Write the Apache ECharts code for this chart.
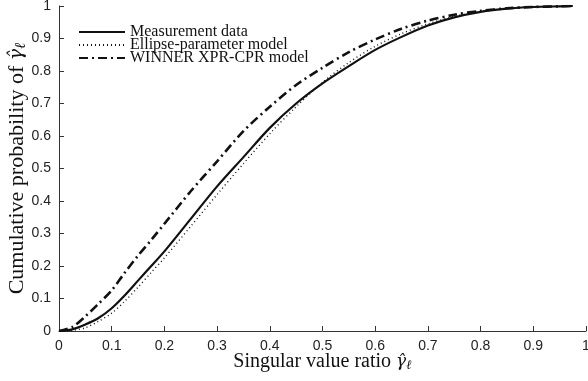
<!DOCTYPE html>
<html>
<head>
<meta charset="utf-8">
<script src="https://cdn.jsdelivr.net/npm/echarts@6/dist/echarts.min.js"></script>
<style>
  html, body { margin: 0; padding: 0; background: #fff; }
  #chart { width: 588px; height: 381px; }
</style>
</head>
<body>
<div id="chart"></div>
<script>
// values
const ratio = [0, 0.025, 0.05, 0.075, 0.1, 0.125, 0.15, 0.175, 0.2, 0.25, 0.3, 0.35, 0.4,
  0.45, 0.5, 0.55, 0.6, 0.65, 0.7, 0.75, 0.8, 0.85, 0.9, 0.95, 0.975];
const measurement = [0, 0.005, 0.02, 0.04, 0.07, 0.11, 0.155, 0.2, 0.245, 0.345, 0.445, 0.535, 0.625,
  0.7, 0.762, 0.815, 0.865, 0.905, 0.94, 0.965, 0.982, 0.992, 0.997, 0.999, 1.0];
const ellipseModel = [0, 0.002, 0.01, 0.03, 0.055, 0.092, 0.135, 0.18, 0.225, 0.322, 0.42, 0.515, 0.607,
  0.69, 0.765, 0.826, 0.876, 0.915, 0.945, 0.968, 0.983, 0.992, 0.997, 0.999, 1.0];
const winnerModel = [0, 0.012, 0.045, 0.084, 0.125, 0.18, 0.232, 0.28, 0.33, 0.43, 0.522, 0.615, 0.69,
  0.757, 0.81, 0.858, 0.897, 0.93, 0.955, 0.973, 0.985, 0.993, 0.997, 0.999, 1.0];
const ticks = [0, 0.1, 0.2, 0.3, 0.4, 0.5, 0.6, 0.7, 0.8, 0.9, 1];

const pairs = (ys) => ratio.map((x, i) => [x, ys[i]]);

const serif = 'Liberation Serif';
const sans = 'Liberation Sans';

const chart = echarts.init(document.getElementById('chart'), null, { renderer: 'canvas' });

const nameRich = (size) => ({
  g: { fontFamily: 'DejaVu Serif', fontStyle: 'italic', fontSize: size - 3, color: '#111' },
  s: { fontFamily: serif, fontStyle: 'italic', fontSize: size - 7, color: '#111', padding: [8, 0, 0, 0] }
});

const axisCommon = {
  type: 'value',
  min: ticks[0],
  max: ticks[ticks.length - 1],
  interval: 0.1,
  splitLine: { show: false },
  axisLine: { show: true, lineStyle: { color: '#333', width: 1 } },
  axisTick: { show: true, inside: true, length: 5, lineStyle: { color: '#333' } },
  axisLabel: { color: '#222', fontFamily: sans, fontSize: 14, margin: 8 },
  nameLocation: 'middle',
  nameMoveOverlap: false
};

chart.setOption({
  animation: false,
  grid: { left: 59, right: 2, top: 6, bottom: 50, containLabel: false, outerBoundsMode: 'none' },
  legend: {
    orient: 'vertical',
    left: 73,
    top: 19,
    itemWidth: 46,
    itemHeight: 10,
    itemGap: -3,
    itemStyle: { opacity: 0 },
    textStyle: { fontFamily: serif, fontSize: 16, color: '#111' },
    data: ['Measurement data', 'Ellipse-parameter model', 'WINNER XPR-CPR model']
  },
  xAxis: Object.assign({}, axisCommon, {
    name: 'Singular value ratio {g|γ̂}{s|ℓ}',
    nameGap: 20,
    nameTextStyle: { color: '#111', fontFamily: serif, fontSize: 20, rich: nameRich(20) }
  }),
  yAxis: Object.assign({}, axisCommon, {
    name: 'Cumulative probability of {g|γ̂}{s|ℓ}',
    nameGap: 30,
    nameTextStyle: { color: '#111', fontFamily: serif, fontSize: 22, rich: nameRich(22), padding: [0, 0, 0, 0] }
  }),
  series: [
    {
      name: 'Measurement data',
      type: 'line',
      data: pairs(measurement),
      smooth: 0.3,
      symbol: 'none',
      lineStyle: { color: '#111', width: 2.2, type: 'solid' }
    },
    {
      name: 'Ellipse-parameter model',
      type: 'line',
      data: pairs(ellipseModel),
      smooth: 0.3,
      symbol: 'none',
      lineStyle: { color: '#111', width: 1.4, type: [1, 3] }
    },
    {
      name: 'WINNER XPR-CPR model',
      type: 'line',
      data: pairs(winnerModel),
      smooth: 0.3,
      symbol: 'none',
      lineStyle: { color: '#111', width: 2.6, type: [9, 4, 2, 4] }
    }
  ]
});
</script>
</body>
</html>
